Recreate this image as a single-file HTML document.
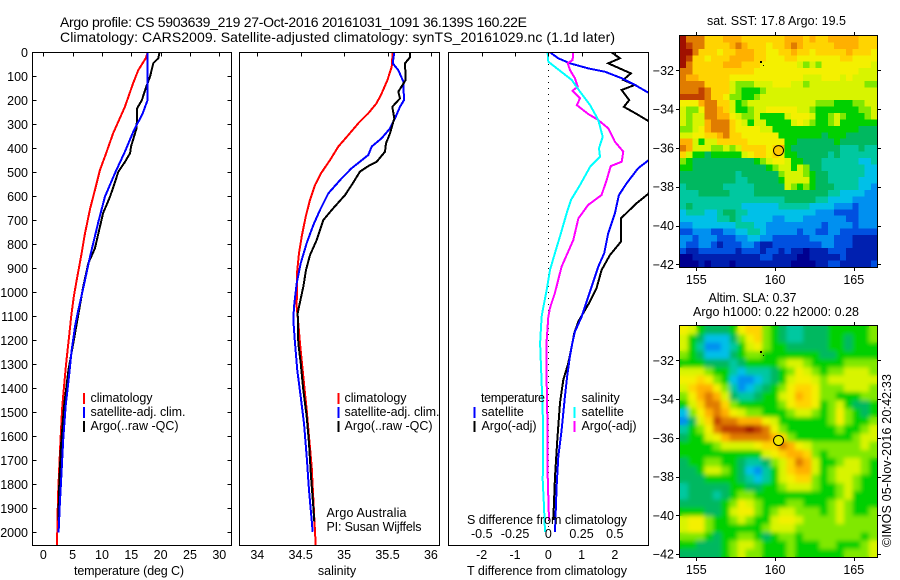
<!DOCTYPE html>
<html lang="en">
<head>
<meta charset="utf-8">
<title>Argo profile 5903639_219</title>
<style>
html,body{margin:0;padding:0;background:#fff;}
svg{display:block;font-family:"Liberation Sans",sans-serif;font-size:12.5px;fill:#000;}
text{stroke:none;}
.line{fill:none;stroke-width:2;shape-rendering:crispEdges;stroke-linejoin:miter;}
.tick,.frame{stroke:#000;stroke-width:1;fill:none;shape-rendering:crispEdges;}
</style>
</head>
<body>
<svg id="chart" xmlns="http://www.w3.org/2000/svg" width="900" height="580" viewBox="0 0 900 580">
<defs>
<clipPath id="clipTemp"><rect x="32" y="52" width="199" height="493"/></clipPath>
<clipPath id="clipSal"><rect x="239" y="52" width="201" height="493"/></clipPath>
<clipPath id="clipDiff"><rect x="448" y="52" width="200" height="493"/></clipPath>
<clipPath id="clipSla"><rect x="680" y="326" width="197" height="231"/></clipPath>
<filter id="smooth" x="-5%" y="-5%" width="110%" height="110%"><feGaussianBlur stdDeviation="2"/></filter>
</defs>
<text x="60" y="27" font-size="14" textLength="467" lengthAdjust="spacing">Argo profile: CS 5903639_219 27-Oct-2016 20161031_1091 36.139S 160.22E</text>
<text x="60" y="42" font-size="14" textLength="555" lengthAdjust="spacing">Climatology: CARS2009. Satellite-adjusted climatology: synTS_20161029.nc (1.1d later)</text>
<g id="plots"></g>
<text x="129" y="575" text-anchor="middle" textLength="110" lengthAdjust="spacing">temperature (deg C)</text>
<text x="337" y="575" text-anchor="middle">salinity</text>
<text x="467" y="524" textLength="160" lengthAdjust="spacing">S difference from climatology</text>
<text x="467" y="575" textLength="160" lengthAdjust="spacing">T difference from climatology</text>
<text x="326.5" y="517" textLength="80" lengthAdjust="spacing">Argo Australia</text>
<text x="326.5" y="531" textLength="95" lengthAdjust="spacing">PI: Susan Wijffels</text>
<text x="707" y="25" textLength="139" lengthAdjust="spacing">sat. SST: 17.8 Argo: 19.5</text>
<text x="708.5" y="302" textLength="88" lengthAdjust="spacing">Altim. SLA: 0.37</text>
<text x="693" y="316" textLength="166" lengthAdjust="spacing">Argo h1000: 0.22 h2000: 0.28</text>
<text transform="translate(891,547) rotate(-90)" textLength="173" lengthAdjust="spacing">©IMOS 05-Nov-2016 20:42:33</text>
</svg>
<script>
const depthTicks = [0,100,200,300,400,500,600,700,800,900,1000,1100,1200,1300,1400,1500,1600,1700,1800,1900,2000];
const tempTicks = [0,5,10,15,20,25,30];
const salTicks = [34,34.5,35,35.5,36];
const salTickLabels = ['34','34.5','35','35.5','36'];
const tDiffTicks = [-2,-1,0,1,2];
const sDiffTicks = [-0.5,-0.25,0,0.25,0.5];
const sDiffTickLabels = ['-0.5','-0.25','0','0.25','0.5'];
const lonTicks = [155,160,165];
const latTicks = [-32,-34,-36,-38,-40,-42];

const tempClimDepth = [0,25,74,129,227,338,421,490,574,650,754,852,935,1018,1100,1184,1294,1393,1485,1600,1725,1850,2054];
const tempClimValue = [17.8,17.45,16.2,15.3,13.9,11.9,10.7,9.66,8.8,8.0,7.1,6.43,5.8,5.2,4.75,4.4,3.9,3.53,3.2,2.97,2.73,2.5,2.33];
const tempSatDepth = [0,198,254,331,414,504,602,706,852,949,1025,1074,1143,1240,1351,1476,1615,1768,1893,2000];
const tempSatValue = [17.8,17.8,16.94,15.34,13.9,12.2,10.5,9.4,7.96,7.1,6.43,5.97,5.4,4.84,4.38,3.8,3.4,3.07,2.8,2.6];
const tempArgoDepth = [0,25,46,100,150,199,233,316,393,420,457,497,553,602,670,754,817,879,977,1200,1325,1476,1643,1797,1950];
const tempArgoValue = [19.8,19.6,18.75,18.2,17.45,16.8,16,15.9,14.95,14.8,13.9,12.8,12.05,11.37,10.2,9.4,8.8,7.67,6.8,5.2,4.27,3.53,3.0,2.73,2.55];

const salClimDepth = [0,60,115,171,212,254,296,345,393,449,504,553,615,685,768,837,920,1060,1129,1212,1283,1393,1490,1602,1727,1893,2053];
const salClimValue = [35.56,35.548,35.5,35.433,35.375,35.279,35.164,35.048,34.933,34.838,34.734,34.665,34.607,34.558,34.511,34.48,34.457,34.454,34.472,34.492,34.511,34.541,34.569,34.596,34.627,34.65,34.673];
const salSatDepth = [0,46,74,122,199,227,275,317,358,393,428,483,525,588,657,720,795,879,962,1060,1115,1212,1325,1435,1546,1685,1824,1998];
const salSatValue = [35.578,35.56,35.624,35.682,35.69,35.644,35.586,35.529,35.433,35.318,35.279,35.088,34.972,34.818,34.722,34.645,34.569,34.5,34.454,34.423,34.415,34.434,34.461,34.5,34.538,34.569,34.596,34.638];
const salArgoDepth = [0,21,46,115,164,192,227,275,338,379,414,456,474,497,553,595,657,699,782,845,907,977,1060,1087,1212,1295,1407,1518,1629,1768,1893,1956];
const salArgoValue = [35.759,35.759,35.702,35.71,35.624,35.644,35.555,35.578,35.529,35.483,35.471,35.376,35.279,35.183,35.088,35.01,34.857,34.76,34.684,34.607,34.561,34.53,34.48,34.465,34.472,34.5,34.53,34.569,34.596,34.619,34.645,34.657];

const tDiffSatDepth = [0,25,46,67,81,108,136,168,200,300,400,451,483,546,595,671,754,837,893,977,1039,1102,1164,1212,1268,1345,1435,1574,1685,1810,1998];
const tDiffSatValue = [0.05,0.3,0.65,1.2,1.7,2.2,2.6,3.0,3.7,3.3,3.5,3.0,2.7,2.35,2.12,2.0,1.8,1.68,1.5,1.3,1.15,1.0,0.8,0.72,0.65,0.57,0.5,0.4,0.3,0.25,0.2];
const tDiffArgoDepth = [0,25,46,88,115,136,157,199,227,261,286,400,500,590,629,692,789,845,907,982,1039,1122,1170,1227,1295,1365,1461,1615,1768,1949];
const tDiffArgoValue = [1.9,2.15,1.8,2.48,2.25,2.6,2.2,2.43,2.27,2.7,3.0,3.6,3.4,3.0,2.65,2.18,2.18,1.85,1.6,1.45,1.25,0.9,0.78,0.7,0.6,0.45,0.35,0.27,0.2,0.15];
const sDiffSatDepth = [0,39,77,115,164,220,282,352,400,435,477,553,615,670,754,837,907,990,1065,1102,1212,1310,1490,1643,1782,1893,1998];
const sDiffSatValue = [-0.005,0,0.088,0.176,0.238,0.314,0.376,0.409,0.381,0.389,0.314,0.238,0.171,0.138,0.095,0.05,0.013,-0.012,-0.038,-0.05,-0.062,-0.055,-0.042,-0.038,-0.042,-0.032,-0.025];
const sDiffArgoDepth = [0,32,46,74,108,143,160,192,220,257,282,317,372,414,456,474,532,595,636,692,782,893,1003,1065,1102,1199,1378,1586,1753,1949];
const sDiffArgoValue = [0.188,0.183,0.146,0.163,0.2,0.221,0.183,0.238,0.214,0.3,0.376,0.451,0.5,0.564,0.552,0.469,0.439,0.4,0.3,0.226,0.188,0.1,0.05,0.013,0,-0.012,-0.012,-0.005,-0.005,0.005];

const profileLon = 160.22;
const profileLat = -36.139;

const levelColors = ['#000090','#0020b0','#0050e0','#0090f0','#00c0e8','#00c8a0','#00b860','#00d000','#80e800','#d8f400','#f4f000','#ffd400','#ffb000','#e07c00','#c04000','#a01000'];

const sstGrid = [
[15,13,13,13,11,11,11,12,12,12,11,11,11,11,11,11,11,12,12,12,11,12,11,11,12,12,12,12,12,11,11,11],
[15,14,13,13,11,11,11,11,12,13,12,11,11,11,10,11,11,12,13,12,11,11,11,11,11,12,12,12,12,11,11,11],
[15,15,13,11,11,11,10,11,11,12,12,12,11,11,10,10,11,11,12,11,11,10,11,11,11,11,11,12,11,11,11,10],
[15,14,11,11,10,11,11,11,12,12,12,12,11,11,10,10,10,11,11,10,10,10,10,10,10,10,11,11,10,10,10,10],
[15,13,11,11,11,11,11,12,12,12,11,11,11,10,10,10,10,10,10,9,8,9,8,10,10,10,10,10,10,10,10,9],
[13,13,11,11,11,11,11,11,11,11,11,11,10,10,10,10,10,10,10,10,10,10,10,10,10,10,10,10,10,9,9,9],
[13,12,12,11,11,11,11,11,10,10,10,10,10,10,10,10,10,10,10,10,9,9,9,10,10,10,9,10,9,9,9,9],
[13,13,13,13,11,11,11,11,9,8,8,8,9,9,9,10,10,10,9,9,8,9,9,9,9,9,9,9,9,9,8,8],
[13,13,13,14,13,11,11,11,9,8,7,7,7,8,9,9,9,9,9,9,9,9,9,9,9,9,9,9,9,9,9,9],
[14,14,14,14,13,11,11,10,8,8,7,7,8,9,9,9,9,9,9,9,9,9,9,9,9,9,9,9,9,9,9,9],
[10,10,10,12,13,13,11,11,9,7,8,9,9,9,9,9,9,9,9,9,9,9,8,8,8,7,7,7,8,8,9,9],
[9,8,8,10,13,13,12,11,9,7,7,8,9,9,10,10,10,10,10,9,9,8,7,7,7,7,7,7,7,8,8,9],
[9,8,9,9,13,13,12,12,10,9,8,8,9,7,7,7,7,9,10,10,10,9,7,7,8,9,8,7,7,7,8,9],
[9,8,9,9,12,13,13,13,11,10,9,7,9,9,7,7,7,7,9,10,9,8,7,7,8,9,7,7,7,7,7,7],
[8,8,9,10,12,13,13,13,11,10,10,10,10,9,9,7,7,7,7,7,7,7,7,7,7,7,7,7,7,6,6,6],
[9,9,10,10,11,11,12,13,11,11,10,10,10,10,10,10,7,7,7,7,7,7,7,6,7,7,7,6,6,6,6,6],
[12,12,9,7,9,9,11,11,11,11,11,10,10,10,10,10,10,7,7,6,6,6,6,6,6,7,6,6,6,6,6,6],
[13,12,9,9,9,8,8,9,8,9,11,11,11,11,10,11,12,7,6,6,6,6,6,6,6,6,5,5,5,6,5,5],
[11,9,7,7,6,7,7,7,7,7,9,10,11,11,10,11,10,7,7,6,6,6,6,6,5,6,5,5,5,5,5,5],
[8,7,6,6,6,6,6,6,6,6,6,6,7,8,9,10,10,9,7,7,6,6,6,5,5,5,5,5,5,4,4,5],
[7,7,6,6,6,6,6,6,6,6,6,6,6,6,7,8,9,9,7,9,8,6,6,5,5,5,5,5,5,5,4,4],
[6,6,6,6,6,6,6,6,6,5,6,6,6,6,6,6,8,9,9,9,8,7,6,6,5,5,5,5,5,5,4,4],
[6,6,6,6,6,6,6,6,6,5,5,6,6,6,6,6,7,9,9,9,9,7,6,6,5,5,5,5,5,4,4,4],
[5,6,6,6,6,6,6,5,5,5,5,5,6,6,6,6,6,9,8,7,8,7,6,6,6,5,5,5,5,4,4,3],
[5,5,5,6,6,6,6,6,5,5,5,5,6,6,6,6,6,6,6,6,6,6,6,6,5,5,4,4,4,4,3,3],
[5,5,5,5,5,5,5,5,5,5,5,5,5,5,5,5,5,6,6,6,6,6,5,5,4,4,4,4,3,3,3,3],
[5,6,5,5,5,5,5,5,5,5,4,4,4,4,4,4,5,5,5,5,5,4,4,4,4,3,3,3,2,3,3,3],
[4,5,5,5,4,4,5,6,6,5,5,4,4,4,4,4,4,4,4,4,4,4,3,3,3,2,2,2,2,3,3,3],
[4,4,4,4,4,4,5,5,6,5,4,4,4,4,4,3,3,4,4,4,3,3,3,3,3,3,3,2,2,3,3,3],
[3,3,4,4,4,4,4,4,4,5,5,5,4,4,3,3,3,3,3,3,3,3,3,2,3,3,3,3,2,3,3,3],
[2,2,3,3,3,2,2,3,3,4,4,5,5,4,3,3,3,3,3,2,3,3,2,2,3,3,2,2,2,2,2,2],
[3,3,2,3,3,3,2,2,2,3,3,4,4,3,3,2,2,2,2,2,2,3,3,3,3,2,2,2,1,1,1,1],
[3,2,2,3,3,2,1,2,2,2,3,3,2,1,1,2,2,2,2,2,2,2,2,3,3,2,2,2,1,1,1,1],
[2,1,1,2,2,2,2,2,2,1,2,2,2,1,2,2,1,2,1,1,0,1,1,1,2,2,2,1,1,1,1,1],
[0,0,1,1,1,1,1,1,1,1,1,1,1,2,2,1,1,1,1,0,0,1,1,1,1,1,2,1,1,1,1,1],
[0,0,0,1,0,1,1,1,0,1,1,1,1,1,1,1,1,1,0,0,0,0,1,1,2,2,1,1,1,1,1,2]
];

const slaGrid = [
[10,9,7,6,6,6,7,10,11,11,8,7,6,5,5,6,6,6,7,7,7,7,7,8],
[9,7,6,4,4,4,6,8,10,11,8,7,6,5,5,6,6,6,7,7,6,7,7,8],
[9,7,5,3,3,4,5,7,9,10,8,7,7,6,6,6,6,6,7,7,6,7,7,7],
[8,7,6,4,4,4,6,7,8,8,7,7,7,7,7,7,7,6,6,7,7,7,7,7],
[7,7,7,6,6,6,5,6,7,7,7,7,8,9,9,8,7,7,7,7,8,8,8,8],
[9,9,9,8,7,7,5,4,5,5,5,6,7,8,10,9,8,7,8,8,9,9,9,8],
[10,10,11,10,8,7,4,3,3,4,5,6,7,9,10,10,9,8,9,9,9,9,9,9],
[9,11,12,12,10,8,5,3,4,5,6,7,8,10,11,11,10,8,8,8,9,9,9,8],
[8,10,12,13,12,9,6,5,5,6,7,7,9,10,12,11,10,8,8,7,7,7,8,8],
[7,9,11,13,13,11,8,7,7,7,7,7,8,10,11,11,10,7,8,9,7,6,6,7],
[4,8,10,12,13,12,10,9,8,8,7,7,7,8,9,9,8,7,8,10,8,7,6,7],
[3,6,9,11,14,13,13,12,12,12,10,9,7,7,7,7,7,7,8,10,8,7,7,8],
[5,7,8,10,13,14,14,14,15,14,13,10,8,7,7,7,7,7,7,8,7,7,8,9],
[6,7,7,9,10,12,13,13,13,13,13,12,11,8,7,7,7,7,7,7,7,8,9,9],
[7,7,7,7,8,9,9,9,9,10,11,11,13,12,10,9,8,8,8,8,8,8,9,8],
[7,7,7,7,7,7,7,7,7,7,9,10,11,12,12,11,8,7,8,8,8,8,8,8],
[6,7,7,8,8,7,7,6,5,5,6,8,9,11,13,12,9,7,7,8,9,9,8,7],
[6,6,7,9,9,8,7,6,4,3,5,7,9,11,12,12,9,7,8,9,9,9,8,7],
[6,6,6,7,7,7,7,6,5,4,5,7,9,10,11,11,8,7,8,9,9,8,7,7],
[5,6,6,6,6,6,7,7,6,6,7,7,8,9,9,9,8,7,7,8,9,8,7,7],
[5,6,6,6,5,6,7,8,8,7,7,7,7,7,7,7,7,7,7,8,9,7,7,7],
[6,6,6,6,6,7,8,10,9,8,7,7,7,8,8,7,7,7,8,9,8,7,7,7],
[7,7,7,6,6,7,9,10,10,8,7,8,9,9,8,8,8,7,8,9,8,7,7,8],
[9,10,10,8,7,7,8,9,8,7,7,9,10,10,9,8,8,8,8,9,8,8,8,8],
[9,10,10,8,7,7,7,7,7,7,8,9,9,9,8,8,8,8,8,8,8,8,8,8],
[8,8,8,7,6,7,7,8,8,7,6,7,8,8,7,8,8,8,8,8,8,8,7,8],
[7,7,6,6,6,7,8,9,9,8,7,7,7,8,7,7,7,8,8,7,7,7,8,9],
[6,6,6,6,6,7,8,9,8,8,7,7,7,8,7,7,7,7,7,7,8,8,8,9]
];

const NS = 'http://www.w3.org/2000/svg';
const plots = document.getElementById('plots');
function mk(tag, attrs, parent) {
  const el = document.createElementNS(NS, tag);
  for (const k in attrs) el.setAttribute(k, attrs[k]);
  (parent || plots).appendChild(el);
  return el;
}
function label(text, x, y, anchor, name) {
  const t = mk('text', {x: x, y: y, 'text-anchor': anchor});
  t.textContent = text;
  
  
  return t;
}
function tick(x1, y1, x2, y2, name) {
  const l = mk('line', {x1: x1, y1: y1, x2: x2, y2: y2, class: 'tick'});
  
  
  return l;
}
const depthY = d => 52.3 + 0.24 * d;
const tempX = v => 43.3 + 5.867 * v;
const salX = v => 257.3 + 86.8 * (v - 34);
const tDiffX = v => 548.3 + 33.3 * v;
const sDiffX = v => 548.3 + 133 * v;
const lonX = v => 696.3 + 15.75 * (v - 155);
const sstLatY = v => 70.3 + 19.4 * (-32 - v);
const slaLatY = v => 360.3 + 19.37 * (-32 - v);

function series(depths, values, xFn, color, clip, name) {
  const pts = depths.map((d, i) => xFn(values[i]).toFixed(1) + ',' + depthY(d).toFixed(1)).join(' ');
  const p = mk('polyline', {points: pts, class: 'line', stroke: color, 'clip-path': 'url(#' + clip + ')'});
  
  
}
function frame(x, y, w, h, name) {
  const r = mk('rect', {x: x, y: y, width: w, height: h, class: 'frame'});
  
  
}
function legendBar(x, y, color, name) {
  const r = mk('rect', {x: x, y: y, width: 2, height: 11, fill: color, 'shape-rendering': 'crispEdges'});
  
  
}

/* temperature panel */
series(tempClimDepth, tempClimValue, tempX, '#ff0000', 'clipTemp', 'temperature-climatology-line');
series(tempArgoDepth, tempArgoValue, tempX, '#000000', 'clipTemp', 'temperature-argo-line');
series(tempSatDepth, tempSatValue, tempX, '#0000ff', 'clipTemp', 'temperature-satellite-line');
frame(32.5, 52.5, 199, 493, 'temperature-panel-frame');
depthTicks.forEach(d => {
  const y = Math.round(depthY(d)) + 0.5;
  if (d > 0) tick(32.5, y, 36.5, y, 'depth-tick-left');
  tick(227.5, y, 231.5, y, 'depth-tick-right');
  label(String(d), 28, depthY(d) + 4.5, 'end', 'depth-tick-label');
});
tempTicks.forEach(v => {
  const x = Math.round(tempX(v)) + 0.5;
  tick(x, 52.5, x, 56.5, 'temperature-tick');
  label(String(v), tempX(v), 559, 'middle', 'temperature-tick-label');
});
legendBar(83, 393, '#ff0000', 'legend-swatch-climatology');
legendBar(83, 407, '#0000ff', 'legend-swatch-satellite');
legendBar(83, 421, '#000000', 'legend-swatch-argo');
label('climatology', 90.5, 402, 'start', 'legend-label-climatology').setAttribute('textLength', '62');
label('satellite-adj. clim.', 90.5, 416, 'start', 'legend-label-satellite').setAttribute('textLength', '95');
label('Argo(..raw -QC)', 90.5, 430, 'start', 'legend-label-argo').setAttribute('textLength', '88');

/* salinity panel */
series(salClimDepth, salClimValue, salX, '#ff0000', 'clipSal', 'salinity-climatology-line');
series(salSatDepth, salSatValue, salX, '#0000ff', 'clipSal', 'salinity-satellite-line');
series(salArgoDepth, salArgoValue, salX, '#000000', 'clipSal', 'salinity-argo-line');
frame(239.5, 52.5, 200, 493, 'salinity-panel-frame');
salTicks.forEach((v, i) => {
  const x = Math.round(salX(v)) + 0.5;
  tick(x, 52.5, x, 56.5, 'salinity-tick');
  label(salTickLabels[i], salX(v), 559, 'middle', 'salinity-tick-label');
});
legendBar(337.5, 393, '#ff0000', 'legend-swatch-climatology');
legendBar(337.5, 407, '#0000ff', 'legend-swatch-satellite');
legendBar(337.5, 421, '#000000', 'legend-swatch-argo');
label('climatology', 344.5, 402, 'start', 'legend-label-climatology').setAttribute('textLength', '62');
label('satellite-adj. clim.', 344.5, 416, 'start', 'legend-label-satellite').setAttribute('textLength', '95');
label('Argo(..raw -QC)', 344.5, 430, 'start', 'legend-label-argo').setAttribute('textLength', '88');

/* difference panel */
const zero = mk('line', {x1: 548.5, y1: 52, x2: 548.5, y2: 530, stroke: '#000', 'stroke-width': 1, 'stroke-dasharray': '1 5', 'shape-rendering': 'crispEdges'});


series(tDiffArgoDepth, tDiffArgoValue, tDiffX, '#000000', 'clipDiff', 't-difference-argo-line');
series(tDiffSatDepth, tDiffSatValue, tDiffX, '#0000ff', 'clipDiff', 't-difference-satellite-line');
series(sDiffArgoDepth, sDiffArgoValue, sDiffX, '#ff00ff', 'clipDiff', 's-difference-argo-line');
series(sDiffSatDepth, sDiffSatValue, sDiffX, '#00ffff', 'clipDiff', 's-difference-satellite-line');
frame(448.5, 52.5, 200, 493, 'difference-panel-frame');
tDiffTicks.forEach(v => {
  const x = Math.round(tDiffX(v)) + 0.5;
  tick(x, 52.5, x, 56.5, 't-difference-tick');
  label(String(v), tDiffX(v), 559, 'middle', 't-difference-tick-label');
});
sDiffTicks.forEach((v, i) => {
  label(sDiffTickLabels[i], sDiffX(v), 538, 'middle', 's-difference-tick-label');
});
label('temperature', 481, 402, 'start', 'legend-heading-temperature').setAttribute('textLength', '64');
label('satellite', 481.5, 416, 'start', 'legend-label-t-satellite');
label('Argo(-adj)', 481.5, 430, 'start', 'legend-label-t-argo').setAttribute('textLength', '55');
legendBar(473.5, 407, '#0000ff', 'legend-swatch-t-satellite');
legendBar(473.5, 421, '#000000', 'legend-swatch-t-argo');
label('salinity', 581.5, 402, 'start', 'legend-heading-salinity');
label('satellite', 581.5, 416, 'start', 'legend-label-s-satellite');
label('Argo(-adj)', 581.5, 430, 'start', 'legend-label-s-argo').setAttribute('textLength', '55');
legendBar(573.5, 407, '#00ffff', 'legend-swatch-s-satellite');
legendBar(573.5, 421, '#ff00ff', 'legend-swatch-s-argo');

/* maps */
function heat(grid, x0, y0, w, h, parent, name) {
  const rows = grid.length, cols = grid[0].length;
  const cw = w / cols, ch = h / rows;
  grid.forEach((row, r) => row.forEach((v, c) => {
    const cell = mk('rect', {
      x: (x0 + c * cw).toFixed(2), y: (y0 + r * ch).toFixed(2),
      width: (cw + 0.6).toFixed(2), height: (ch + 0.6).toFixed(2),
      fill: levelColors[Math.max(0, Math.min(levelColors.length - 1, Math.round(v)))],
      'shape-rendering': 'crispEdges'
    }, parent);
    
    
  }));
}
function mapAxes(x0, y0, w, h, latY, prefix, lonLabelY) {
  frame(x0 + 0.5, y0 + 0.5, w, h, prefix + '-map-frame');
  lonTicks.forEach(v => {
    const x = Math.round(lonX(v)) + 0.5;
    tick(x, y0 - 3, x, y0, prefix + '-lon-tick-top');
    tick(x, y0 + h + 1, x, y0 + h + 4, prefix + '-lon-tick-bottom');
    label(String(v), lonX(v), lonLabelY, 'middle', prefix + '-lon-tick-label');
  });
  latTicks.forEach(v => {
    const y = Math.round(latY(v)) + 0.5;
    tick(x0 - 3, y, x0, y, prefix + '-lat-tick-left');
    tick(x0 + w + 1, y, x0 + w + 4, y, prefix + '-lat-tick-right');
    label('\u2212' + Math.abs(v), x0 - 5, latY(v) + 4.5, 'end', prefix + '-lat-tick-label');
  });
}
function marker(cy, fill, name) {
  const c = mk('circle', {cx: lonX(profileLon), cy: cy, r: 5, fill: fill, stroke: '#000', 'stroke-width': 1});
  
  
}
function specks(y, name) {
  const a = mk('rect', {x: 760, y: y, width: 2, height: 2, fill: '#000', 'shape-rendering': 'crispEdges'});
  
  
  const b = mk('rect', {x: 763, y: y + 4, width: 1, height: 1, fill: '#000', 'shape-rendering': 'crispEdges'});
  
  
}

const sstGroup = mk('g', {});


heat(sstGrid, 680, 36, 197, 231, sstGroup, 'sst-cell');
mapAxes(679, 35, 198, 232, sstLatY, 'sst', 284);
specks(61, 'sst-map-speck');
marker(sstLatY(profileLat), '#ffc800', 'sst-profile-marker');

const slaClip = mk('g', {'clip-path': 'url(#clipSla)'});


const slaGroup = mk('g', {id: 'slaCells'}, slaClip);


heat(slaGrid, 680, 326, 197, 231, slaGroup, 'sla-cell');
const slaSmooth = mk('use', {href: '#slaCells', filter: 'url(#smooth)'}, slaClip);


mapAxes(679, 325, 198, 232, slaLatY, 'sla', 574);
specks(351, 'sla-map-speck');
marker(slaLatY(profileLat), '#f0e800', 'sla-profile-marker');
</script>
</body>
</html>
